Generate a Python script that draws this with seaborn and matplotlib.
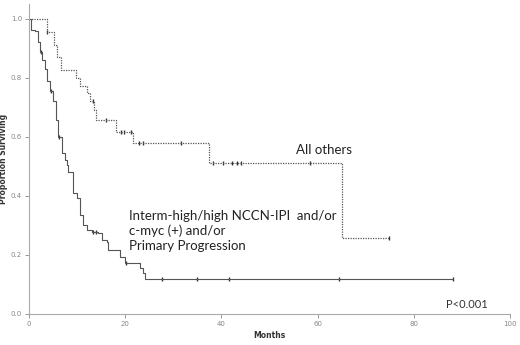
import numpy as np
import pandas as pd
import matplotlib
matplotlib.use("Agg")
import matplotlib.pyplot as plt
import seaborn as sns

# ---- data ----
upper_t = [0, 3.7, 5.2, 5.8, 6.7, 9.8, 10.6, 12.0, 12.7, 13.6, 14.0, 18.0, 21.7, 37.5, 65.1, 74.8]
upper_s = [1.0, 0.955, 0.91, 0.87, 0.826, 0.80, 0.773, 0.748, 0.72, 0.69, 0.658, 0.618, 0.579, 0.513, 0.257, 0.257]
upper_cens = [3.8, 13.3, 16.0, 19.1, 19.8, 21.3, 22.9, 23.6, 31.7, 38.3, 40.4, 42.1, 43.2, 44.1, 58.4, 74.8]

lower_t = [0, 0.5, 1.2, 1.8, 2.3, 2.8, 3.3, 3.8, 4.4, 5.0, 5.7, 6.1, 6.8, 7.4, 7.8, 8.2,
           9.2, 9.9, 10.6, 11.3, 12.0, 13.0, 14.4, 15.1, 16.2, 16.5, 18.9, 20.0, 23.1, 23.8, 24.1, 88.2]
lower_s = [1.0, 0.963, 0.957, 0.92, 0.889, 0.86, 0.83, 0.79, 0.754, 0.72, 0.658, 0.60, 0.545, 0.52, 0.505, 0.482,
           0.409, 0.392, 0.336, 0.302, 0.285, 0.279, 0.274, 0.251, 0.245, 0.217, 0.194, 0.172, 0.155, 0.138, 0.117, 0.117]
lower_cens = [2.5, 4.5, 6.2, 13.4, 14.0, 20.2, 27.6, 34.9, 41.6, 64.5, 88.2]

x_ticks = [0, 20, 40, 60, 80, 100]
y_ticks = [0.0, 0.2, 0.4, 0.6, 0.8, 1.0]
y_ticklabels = ["0.0", "0.2", "0.4", "0.6", "0.8", "1.0"]

label_upper = "All others"
label_lower = "Interm-high/high NCCN-IPI  and/or\nc-myc (+) and/or\nPrimary Progression"
p_text = "P<0.001"


def step_value(times, surv, t):
    idx = np.searchsorted(times, t, side="right") - 1
    return np.asarray(surv)[idx]


sns.set_style("white")
plt.rcParams["font.family"] = ["DejaVu Sans"]

fig = plt.figure(figsize=(5.2, 3.45), dpi=100)
ax = fig.add_axes([29 / 520, 31 / 345, 481 / 520, 310 / 345])

up_df = pd.DataFrame({"Months": upper_t, "S": upper_s})
lo_df = pd.DataFrame({"Months": lower_t, "S": lower_s})

sns.lineplot(data=up_df, x="Months", y="S", ax=ax, drawstyle="steps-post",
             color="#555555", linewidth=0.9, linestyle=(0, (1, 1)), estimator=None)
sns.lineplot(data=lo_df, x="Months", y="S", ax=ax, drawstyle="steps-post",
             color="#555555", linewidth=0.8, estimator=None)

uc = pd.DataFrame({"t": upper_cens, "s": step_value(upper_t, upper_s, upper_cens)})
lc = pd.DataFrame({"t": lower_cens, "s": step_value(lower_t, lower_s, lower_cens)})
sns.scatterplot(data=uc, x="t", y="s", ax=ax, marker="|", s=5, color="#333333", linewidth=1.0)
sns.scatterplot(data=lc, x="t", y="s", ax=ax, marker="|", s=5, color="#333333", linewidth=1.0)

ax.set_xlim(0, 100)
ax.set_ylim(0, 1.05)
ax.set_xticks(x_ticks)
ax.set_xticklabels([str(v) for v in x_ticks])
ax.set_yticks(y_ticks)
ax.set_yticklabels(y_ticklabels)
ax.tick_params(axis="both", labelsize=5, colors="#888888", length=3, width=0.6,
               direction="out", bottom=True, left=True, pad=2)
for sp in ["top", "right"]:
    ax.spines[sp].set_visible(False)
for sp in ["left", "bottom"]:
    ax.spines[sp].set_color("#aaaaaa")
    ax.spines[sp].set_linewidth(0.8)

ax.set_xlabel("Months", fontsize=5.5, fontweight="bold", color="#333333", labelpad=3)
ax.set_ylabel("Proportion Surviving", fontsize=5.5, fontweight="bold", color="#333333", labelpad=2)

txt_family = ["Lato", "DejaVu Sans"]
ax.text(55.5, 0.555, label_upper, fontsize=9.5, family=txt_family,
        color="#222222", va="center", ha="left")
ax.text(20.8, 0.281, label_lower, fontsize=9.5, family=txt_family,
        color="#222222", va="center", ha="left", linespacing=1.3)
ax.text(86.7, 0.033, p_text, fontsize=8, family=txt_family,
        color="#333333", va="center", ha="left")

fig.savefig("out.png", dpi=100, facecolor="white")
